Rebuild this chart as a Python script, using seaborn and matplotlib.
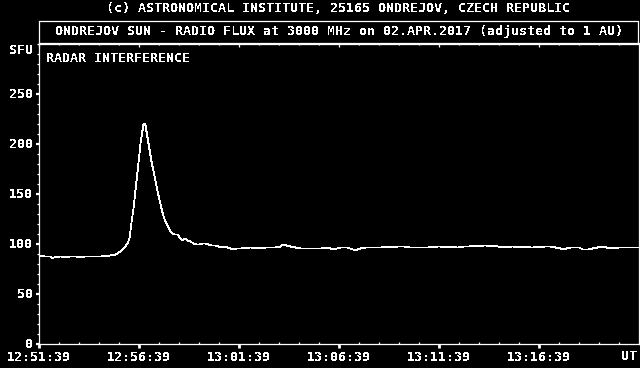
import matplotlib
matplotlib.use("Agg")
import matplotlib.pyplot as plt
from matplotlib.lines import Line2D
from matplotlib.ticker import MultipleLocator
import seaborn as sns
import pandas as pd

# ---- data (seconds after 12:51:39 UT, flux in SFU) ----
time_s = [0, 18, 36, 42, 51, 66, 81, 96, 111, 126, 141, 156, 171, 186, 201, 216, 228, 237,
          246, 255, 261, 267, 273, 276, 279, 282, 285, 288, 291, 294, 297, 300, 303, 306,
          309, 312, 315, 318, 321, 324, 327, 330, 333, 336, 339, 342, 345, 348, 351, 354,
          357, 360, 363, 366, 369, 372, 375, 378, 381, 384, 387, 390, 396, 402, 408, 417,
          426, 432, 441, 447, 456, 465, 474, 483, 492, 501, 510, 519, 531, 540, 549, 558,
          567, 576, 585, 594, 606, 621, 636, 651, 666, 681, 696, 711, 726, 735, 744, 756,
          771, 786, 816, 846, 867, 885, 906, 927, 942, 954, 966, 981, 996, 1026, 1047, 1062,
          1077, 1095, 1116, 1137, 1167, 1182, 1200, 1230, 1260, 1275, 1290, 1311, 1341, 1362,
          1380, 1392, 1407, 1422, 1446, 1482, 1506, 1521, 1536, 1551, 1566, 1572, 1584, 1596,
          1611, 1623, 1632, 1650, 1662, 1677, 1692, 1704, 1722, 1740, 1761, 1782, 1800]
flux = [88, 87, 87, 85.5, 86.5, 87, 86.5, 87, 87, 86.5, 87, 87, 87, 87, 87.5, 88, 88.5, 90,
        92, 95, 97, 100, 105, 113, 121, 128, 135, 144, 153, 162, 170, 180, 190, 200,
        207, 213, 219, 220, 218, 212, 206, 200, 194, 188, 182, 177, 172, 167, 162, 157,
        152.5, 148, 143.5, 139, 135, 131, 127.5, 124.5, 122, 120, 118, 116, 112, 110, 109, 109,
        105, 103, 105, 103, 102, 100, 99, 99, 100, 100, 99, 98, 98, 97, 96, 97,
        96, 95, 94, 95, 95, 95.5, 96, 95.5, 95, 96, 96, 96, 97, 99, 98, 97,
        96, 95, 95, 95, 96, 94, 96, 96, 94, 93.5, 95, 96, 96, 96, 96.5, 96,
        97, 97, 96, 96, 96, 96.5, 97, 96.5, 96, 97, 97, 97.5, 98, 97.5,
        97, 96, 96.5, 97, 96.5, 96, 96.5, 97, 97, 96, 95, 94, 95, 96,
        96, 96, 94, 94, 95, 96, 97, 96, 95, 96, 96, 96, 96]

x_tick_labels = ["12:51:39", "12:56:39", "13:01:39", "13:06:39", "13:11:39", "13:16:39"]
y_tick_values = [0, 50, 100, 150, 200, 250]

title_top = "(c) ASTRONOMICAL INSTITUTE, 25165 ONDREJOV, CZECH REPUBLIC"
title_box = "ONDREJOV SUN - RADIO FLUX at 3000 MHz on 02.APR.2017 (adjusted to 1 AU)"
note = "RADAR INTERFERENCE"

df = pd.DataFrame({"t": time_s, "sfu": flux})

sns.set_style("dark", {"axes.facecolor": "black", "figure.facecolor": "black"})
plt.rcParams["font.family"] = ["DejaVu Sans Mono"]
plt.rcParams["font.weight"] = "bold"
plt.rcParams["text.antialiased"] = False
FS = 9.6

W, H = 640, 368
fig = plt.figure(figsize=(W / 100, H / 100), dpi=100, facecolor="black")
L, R, B, T = 38.5, 638.5, 343.5, 43.5   # pixel coords (from top)
ax = fig.add_axes([L / W, (H - B) / H, (R - L) / W, (B - T) / H])
ax.set_facecolor("black")

sns.lineplot(data=df, x="t", y="sfu", ax=ax, color="white", linewidth=0.6, antialiased=False)

ax.set_xlim(0, 1800)
ax.set_ylim(0, 300)
ax.grid(False)
ax.set_xlabel("")
ax.set_ylabel("")
for s in ax.spines.values():
    s.set_color("white")
    s.set_linewidth(0.9)
    s.set_visible(True)

ax.set_xticks([i * 300 for i in range(len(x_tick_labels))])
ax.set_xticklabels(x_tick_labels)
ax.xaxis.set_minor_locator(MultipleLocator(60))
ax.set_yticks(y_tick_values)
ax.set_yticklabels([str(v) for v in y_tick_values])
ax.yaxis.set_minor_locator(MultipleLocator(10))

ax.tick_params(axis="x", which="major", direction="out", length=3.2, width=2.0,
               color="white", labelcolor="white", labelsize=FS, pad=2.5,
               bottom=True, top=False)
ax.tick_params(axis="x", which="minor", direction="in", length=1.8, width=0.9,
               color="white", bottom=True, top=False)
ax.tick_params(axis="y", which="major", direction="out", length=2.4, width=1.6,
               color="white", labelcolor="white", labelsize=FS, pad=1.5,
               left=True, right=False)
ax.tick_params(axis="y", which="minor", direction="out", length=1.2, width=0.9,
               color="white", left=True, right=False)

sec = ax.secondary_xaxis("top")
sec.set_xticks([i * 300 for i in range(len(x_tick_labels))])
sec.set_xticklabels([])
sec.xaxis.set_minor_locator(MultipleLocator(60))
sec.tick_params(axis="x", which="major", direction="in", length=2.6, width=0.9, color="white")
sec.tick_params(axis="x", which="minor", direction="in", length=1.6, width=0.9, color="white")
sec.spines["top"].set_color("white")
sec.spines["top"].set_linewidth(0.9)

# title box
box_top = 20.5
def fx(px):
    return px / W
def fy(py):
    return (H - py) / H
for xs, ys in [((L, L), (T, box_top)), ((R - 1, R - 1), (T, box_top)), ((L, R - 1), (box_top, box_top))]:
    fig.add_artist(Line2D([fx(xs[0]), fx(xs[1])], [fy(ys[0]), fy(ys[1])],
                          transform=fig.transFigure, color="white", linewidth=0.9))

fig.text(fx(338), fy(8), title_top, ha="center", va="center", color="white", fontsize=FS, fontweight="bold")
fig.text(fx(339), fy(31.5), title_box, ha="center", va="center", color="white", fontsize=FS, fontweight="bold")
fig.text(fx(33), fy(50), "SFU", ha="right", va="center", color="white", fontsize=FS, fontweight="bold")
fig.text(fx(637), fy(357), "UT", ha="right", va="center", color="white", fontsize=FS, fontweight="bold")
ax.text(8 / 600, 285 / 300, note, transform=ax.transAxes, ha="left", va="center",
        color="white", fontsize=FS, fontweight="bold")

fig.savefig("out.png", dpi=100, facecolor="black")
